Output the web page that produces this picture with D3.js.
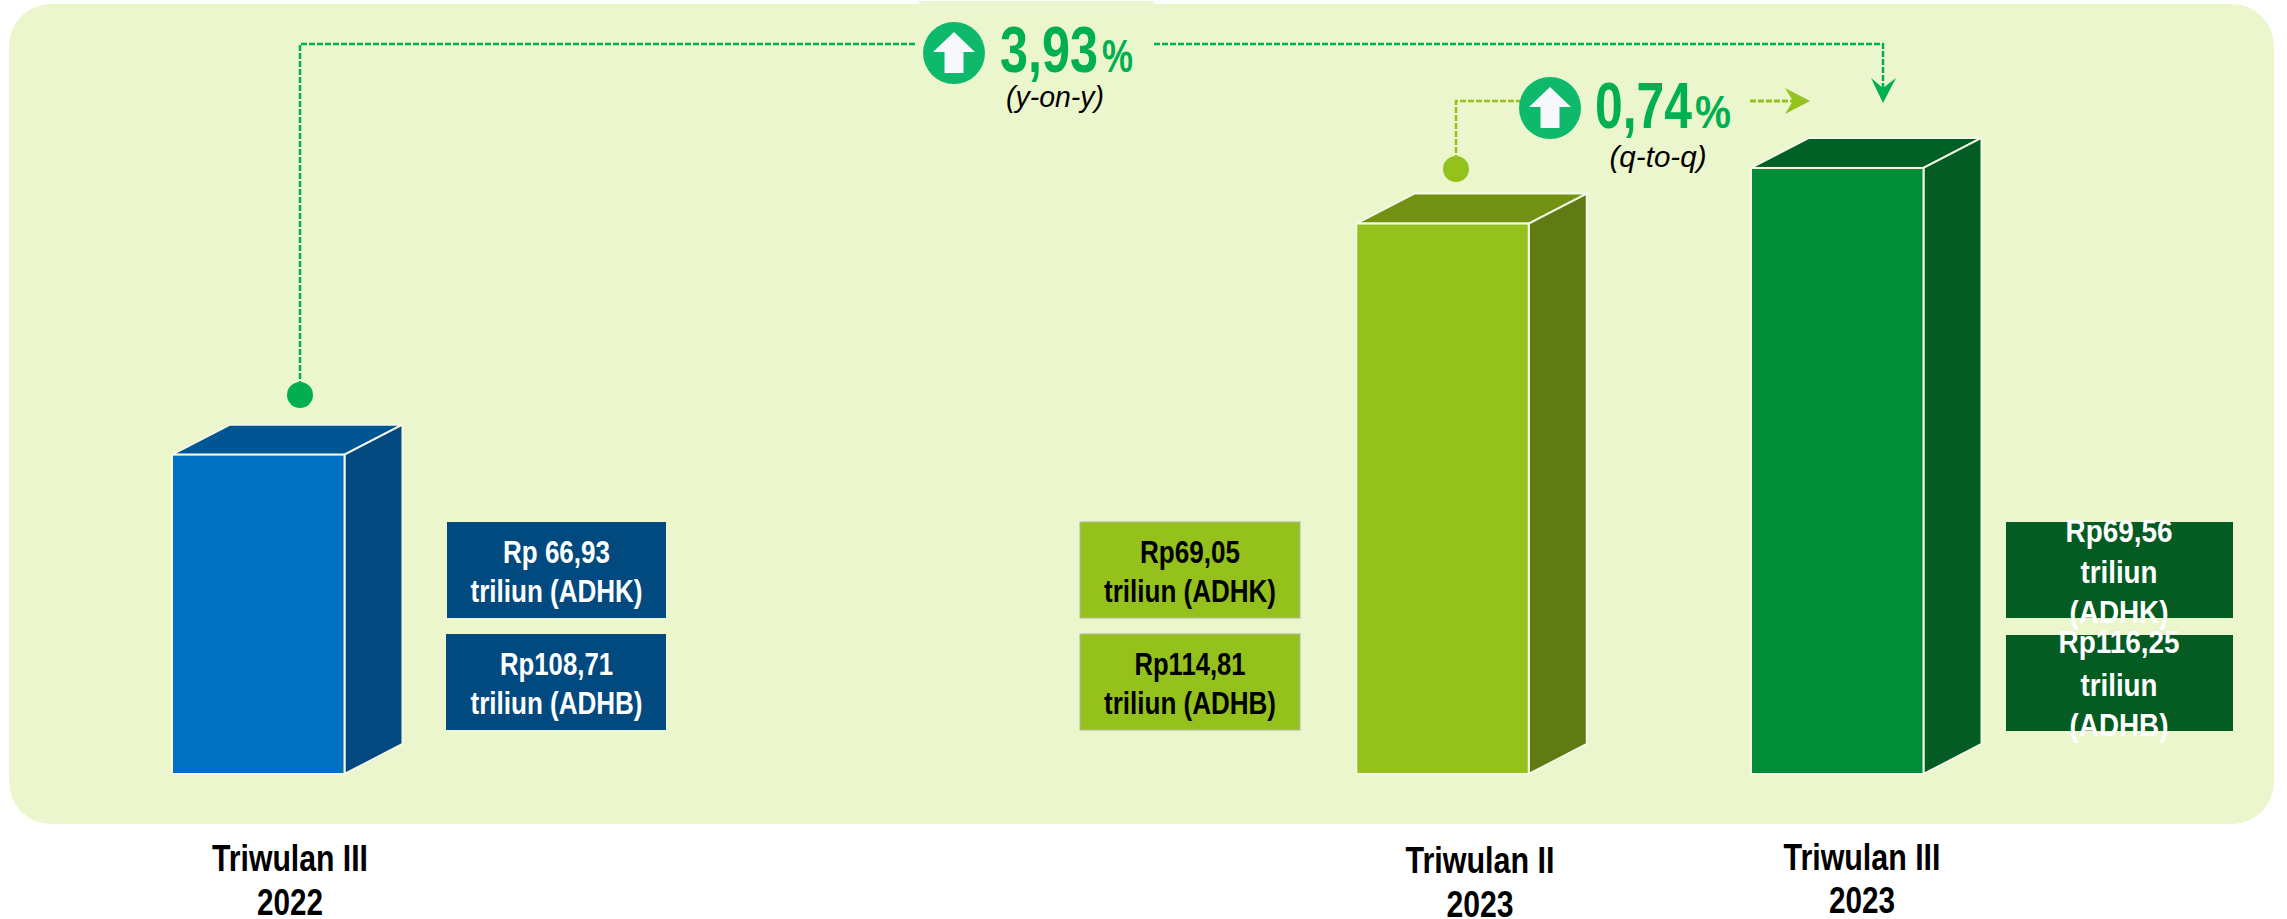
<!DOCTYPE html>
<html><head><meta charset="utf-8">
<script src="https://cdnjs.cloudflare.com/ajax/libs/d3/7.8.5/d3.min.js"></script>
<style>html,body{margin:0;padding:0;background:#fff}svg{display:block}text{font-family:"Liberation Sans",Arial,sans-serif}</style>
</head><body><svg id="c" width="2287" height="919"></svg>
<script>
const quarters = [0, 3, 4];
const categories = [["Triwulan III","2022"],["Triwulan II","2023"],["Triwulan III","2023"]];
const adhk = [66.93, 69.05, 69.56];
const adhb = [108.71, 114.81, 116.25];
const adhkLabels = [["Rp 66,93","triliun (ADHK)"],["Rp69,05","triliun (ADHK)"],["Rp69,56","triliun","(ADHK)"]];
const adhbLabels = [["Rp108,71","triliun (ADHB)"],["Rp114,81","triliun (ADHB)"],["Rp116,25","triliun","(ADHB)"]];
const frontColors = ["#0070c0","#95c11c","#008c36"];
const topColors = ["#005593","#739214","#005f24"];
const sideColors = ["#03487f","#607b14","#035c23"];
const boxColors = ["#004a80","#95c11c","#055c23"];
const boxText = ["#fff","#000","#fff"];
const yoy = "3,93", qoq = "0,74";

const svg = d3.select("#c");
const x = d3.scaleLinear().domain([0,4]).range([172,1751]);
const y = d3.scaleLinear().domain([64,70]).range([774,120]);
const barW = 172.5, dx = 58, dy = 30;
const GREEN = "#00b050", LIME = "#95c11c", CIRC = "#0fb96c";

svg.append("rect").attr("x",9).attr("y",4).attr("width",2265).attr("height",820).attr("rx",42).attr("ry",42).attr("fill","#ebf6cd");
svg.append("rect").attr("x",919).attr("y",1).attr("width",235).attr("height",10).attr("fill","#ecf6cf");

function T(s,cx,base,w,size,fill,opts={}){
  const t = svg.append("text").attr("x",cx).attr("y",base).attr("text-anchor",opts.anchor||"middle")
    .attr("font-size",size).attr("font-weight",opts.weight||"bold").attr("font-style",opts.style||"normal")
    .attr("fill",fill).text(s);
  if(w) t.attr("textLength",w).attr("lengthAdjust","spacingAndGlyphs");
  return t;
}

// Bars
quarters.forEach((q,i)=>{
  const l=x(q), r=l+barW, t=y(adhk[i]), b=y(64);
  const g=svg.append("g");
  const pts=a=>a.map(p=>p.join(",")).join(" ");
  g.append("polygon").attr("points",pts([[l,t],[l+dx,t-dy],[r+dx,t-dy],[r,t]])).attr("fill",topColors[i]).attr("stroke","#f4f9e6").attr("stroke-width",2);
  g.append("polygon").attr("points",pts([[r,t],[r+dx,t-dy],[r+dx,b-dy],[r,b]])).attr("fill",sideColors[i]).attr("stroke","#f4f9e6").attr("stroke-width",2);
  g.append("rect").attr("x",l).attr("y",t).attr("width",barW).attr("height",b-t).attr("fill",frontColors[i]).attr("stroke","#f4f9e6").attr("stroke-width",2);
});

// Value boxes
const boxGeom=[[447,219,556.5,[[563,107],[602,172]],[[675,113],[714,172]]],
               [1080,220,1190,[[563,100],[602,172]],[[675,111],[714,172]]],
               [2006,227,2119,[[542,107],[583,77],[623,99]],[[653,121],[696,77],[736,99]]]];
quarters.forEach((q,i)=>{
  const [bx,bw,cx,l1,l2]=boxGeom[i];
  const stroke=i===1?"#b0b8a0":"none";
  svg.append("rect").attr("x",bx).attr("y",522).attr("width",bw).attr("height",96).attr("fill",boxColors[i]).attr("stroke",stroke);
  svg.append("rect").attr("x",i===0?446:bx).attr("y",i===2?635:634).attr("width",i===0?220:bw).attr("height",96).attr("fill",boxColors[i]).attr("stroke",stroke);
  adhkLabels[i].forEach((s,j)=>T(s,cx,l1[j][0],l1[j][1],31,boxText[i]));
  adhbLabels[i].forEach((s,j)=>T(s,cx,l2[j][0],l2[j][1],31,boxText[i]));
});

// Category labels
const catGeom=[[290,871,156,915,66],[1480,873,149,917,67],[1862,870,157,913,66]];
categories.forEach((c,i)=>{
  const [cx,b1,w1,b2,w2]=catGeom[i];
  T(c[0],cx,b1,w1,36,"#000");
  T(c[1],cx,b2,w2,36,"#000");
});

// Connectors
const line=d3.line();
const dash=(d,color,w)=>svg.append("path").attr("d",line(d)).attr("fill","none").attr("stroke",color).attr("stroke-width",w).attr("stroke-dasharray","6,2");
dash([[300,395],[300,44],[917,44]],GREEN,2.5);
dash([[1154,44],[1883,44],[1883,90]],GREEN,2.5);
svg.append("path").attr("d","M1871,78L1883,88L1896,78L1883,103Z").attr("fill",GREEN);
svg.append("circle").attr("cx",300).attr("cy",395).attr("r",13).attr("fill",GREEN);
dash([[1456,169],[1456,101],[1520,101]],LIME,2.5);
dash([[1750,101],[1800,101]],LIME,3);
svg.append("path").attr("d","M1785,88L1810,101L1785,114L1793,101Z").attr("fill",LIME);
svg.append("circle").attr("cx",1456).attr("cy",169).attr("r",13).attr("fill",LIME);

// Badges
function badge(cx,cy){
  svg.append("circle").attr("cx",cx).attr("cy",cy).attr("r",31).attr("fill",CIRC);
  svg.append("path").attr("d",line([[cx,cy-21],[cx+21,cy-1],[cx+9.5,cy-1],[cx+9.5,cy+20],[cx-9.5,cy+20],[cx-9.5,cy-1],[cx-21,cy-1]])+"Z").attr("fill","#f6f8fb");
}
badge(954,53);
T(yoy,1000,72,98,64,GREEN,{anchor:"start"});
T("%",1102,72,31,46,GREEN,{anchor:"start"});
T("(y-on-y)",1055,107,98,30,"#000",{weight:"normal",style:"italic"});
badge(1550,108);
T(qoq,1595,128,97,64,GREEN,{anchor:"start"});
T("%",1695,128,36,46,GREEN,{anchor:"start"});
T("(q-to-q)",1658,167,97,30,"#000",{weight:"normal",style:"italic"});
</script></body></html>
